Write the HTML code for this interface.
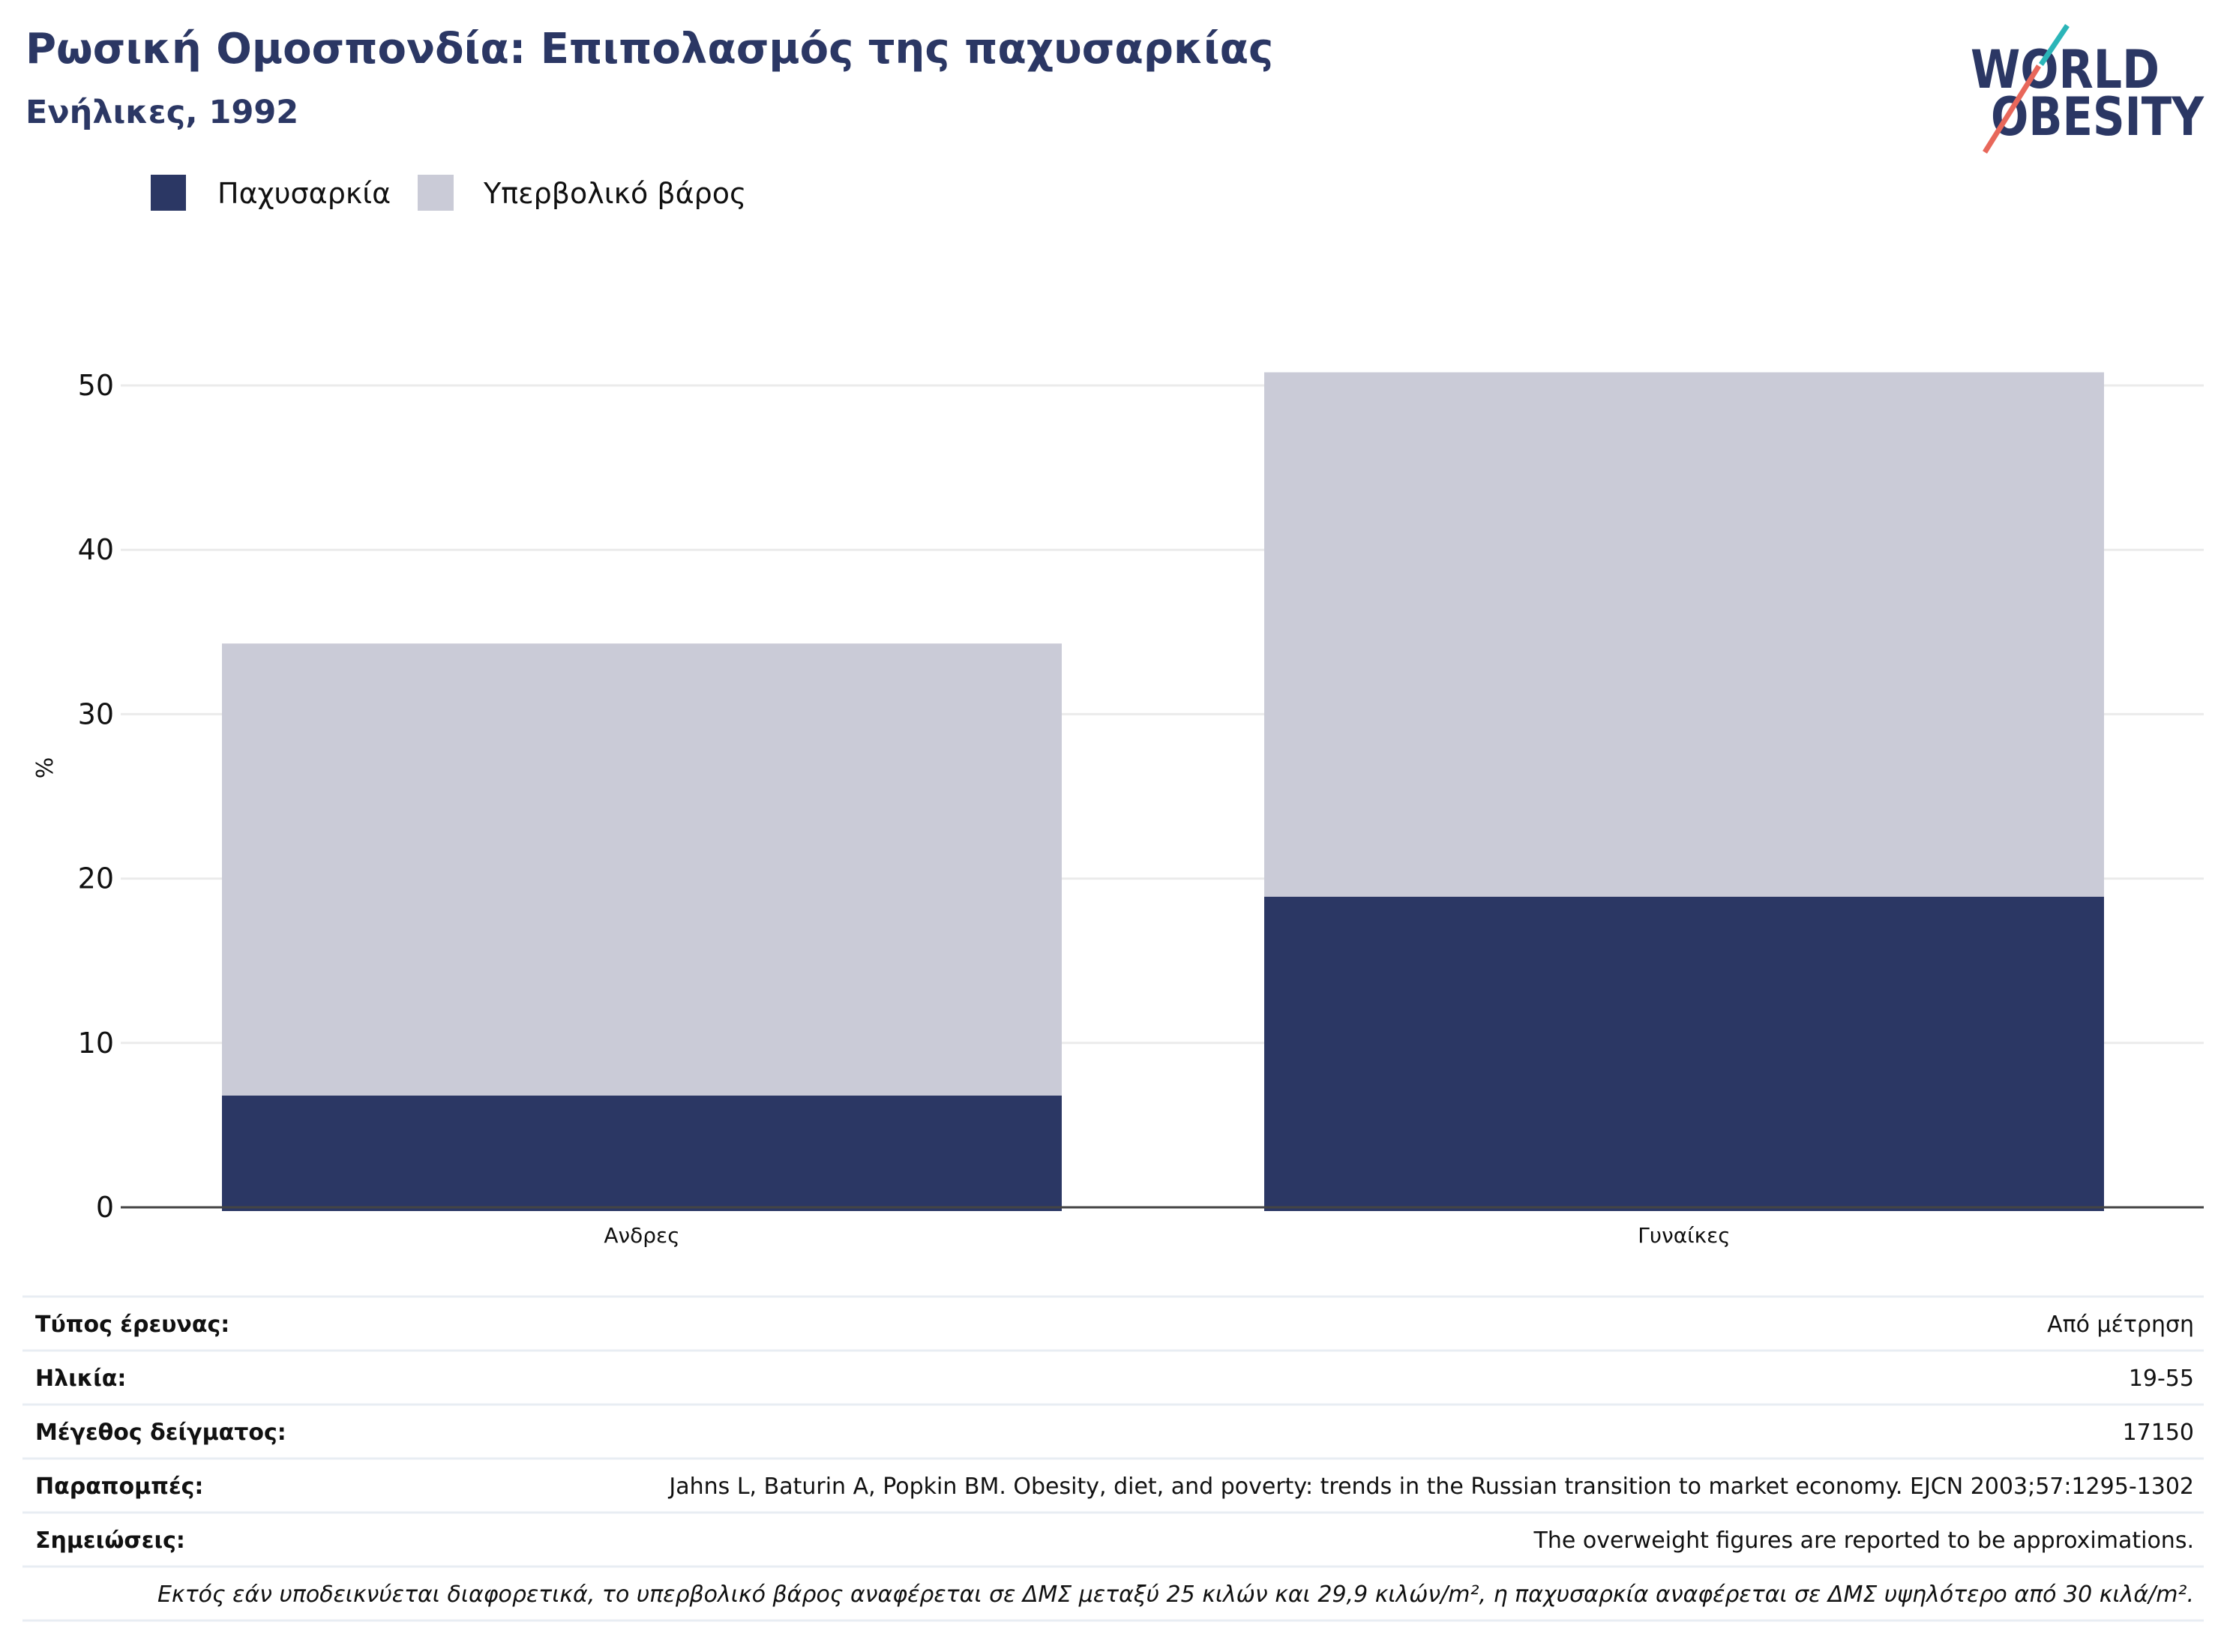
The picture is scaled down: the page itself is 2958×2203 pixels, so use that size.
<!DOCTYPE html>
<html><head><meta charset="utf-8"><style>
html,body{margin:0;padding:0;background:#fff;}
svg{display:block;font-family:"DejaVu Sans","Liberation Sans",sans-serif;}
</style></head><body>
<svg id="chart" width="2958" height="2203" viewBox="0 0 2958 2203" xmlns="http://www.w3.org/2000/svg">
<text x="34" y="84" font-size="56" font-weight="bold" fill="#2b3764">Ρωσική Ομοσπονδία: Επιπολασμός της παχυσαρκίας</text>
<text x="34" y="164" font-size="43" font-weight="bold" fill="#2b3764">Ενήλικες, 1992</text>
<g>
<text x="2628" y="117" font-size="70" font-weight="bold" fill="#2b3764" textLength="252" lengthAdjust="spacingAndGlyphs">WORLD</text>
<text x="2655" y="180" font-size="70" font-weight="bold" fill="#2b3764" textLength="284" lengthAdjust="spacingAndGlyphs">OBESITY</text>
<line x1="2757" y1="34" x2="2722" y2="86" stroke="#2bb5b8" stroke-width="7"/>
<line x1="2719" y1="88" x2="2647" y2="203" stroke="#e8675a" stroke-width="7"/>
</g>
<g>
<rect x="201" y="233" width="47" height="48" fill="#2b3764"/>
<text x="290" y="271" font-size="38" fill="#111">Παχυσαρκία</text>
<rect x="557" y="233" width="48" height="48" fill="#cacbd7"/>
<text x="645" y="271" font-size="38" fill="#111">Υπερβολικό βάρος</text>
</g>
<g id="grid"></g>
<g id="bars"></g>
<g id="axis"></g>
<text transform="translate(70,1024) rotate(-90)" font-size="30" text-anchor="middle" fill="#111">%</text>
<g id="table"></g>
</svg>
<script>
const categories = ["Ανδρες", "Γυναίκες"];
const obesity = [6.8, 18.9];
const overweight = [27.5, 31.9];
const yTicks = [0, 10, 20, 30, 40, 50];

const NS = "http://www.w3.org/2000/svg";
const y0 = 1610, pxPer = 21.92, xl = 161, xr = 2939;
const y = v => y0 - v * pxPer;
const bandStart = 296, bandStep = 1390, barW = 1120;
const x = i => bandStart + i * bandStep;
function mk(tag, attrs, parent) {
  const e = document.createElementNS(NS, tag);
  for (const k in attrs) e.setAttribute(k, attrs[k]);
  parent.appendChild(e);
  return e;
}
const grid = document.getElementById('grid');
const axis = document.getElementById('axis');
yTicks.forEach(t => {
  if (t > 0) {
    const l = mk('line', {x1: xl, x2: xr, y1: y(t), y2: y(t), stroke: '#ebebeb', 'stroke-width': 3}, grid);
    
    
  }
  const tx = mk('text', {x: 152, y: y(t) + 13, 'font-size': 38, 'text-anchor': 'end', fill: '#111'}, axis);
  tx.textContent = t;
  
  
});
const bars = document.getElementById('bars');
categories.forEach((c, i) => {
  const r1 = mk('rect', {x: x(i), y: y(obesity[i]), width: barW, height: y0 + 5 - y(obesity[i]), fill: '#2b3764'}, bars);
  
  
  const top = obesity[i] + overweight[i];
  const r2 = mk('rect', {x: x(i), y: y(top), width: barW, height: y(obesity[i]) - y(top), fill: '#cacbd7'}, bars);
  
  
  const lb = mk('text', {x: x(i) + barW / 2, y: 1657, 'font-size': 28, 'text-anchor': 'middle', fill: '#111'}, axis);
  lb.textContent = c;
  
  
});
const base = mk('line', {x1: xl, x2: xr, y1: y0, y2: y0, stroke: '#444', 'stroke-width': 3}, axis);



const rowLabels = ["Τύπος έρευνας:", "Ηλικία:", "Μέγεθος δείγματος:", "Παραπομπές:", "Σημειώσεις:"];
const rowValues = ["Από μέτρηση", "19-55", "17150", "Jahns L, Baturin A, Popkin BM. Obesity, diet, and poverty: trends in the Russian transition to market economy. EJCN 2003;57:1295-1302", "The overweight figures are reported to be approximations."];
const note = "Εκτός εάν υποδεικνύεται διαφορετικά, το υπερβολικό βάρος αναφέρεται σε ΔΜΣ μεταξύ 25 κιλών και 29,9 κιλών/m², η παχυσαρκία αναφέρεται σε ΔΜΣ υψηλότερο από 30 κιλά/m².";
const tbl = document.getElementById('table');
const rowTop = 1729, rowH = 72;
for (let i = 0; i <= 6; i++) {
  const l = mk('line', {x1: 30, x2: 2939, y1: rowTop + i * rowH, y2: rowTop + i * rowH, stroke: '#e8edf3', 'stroke-width': 3}, tbl);
  
  
}
rowLabels.forEach((r, i) => {
  const cy = rowTop + i * rowH + 47;
  const a = mk('text', {x: 47, y: cy, 'font-size': 30, 'font-weight': 'bold', fill: '#111'}, tbl);
  a.textContent = r;
  
  
  const b = mk('text', {x: 2926, y: cy, 'font-size': 30, 'text-anchor': 'end', fill: '#111'}, tbl);
  b.textContent = rowValues[i];
  
  
});
const n = mk('text', {x: 2926, y: rowTop + 5 * rowH + 47, 'font-size': 30, 'font-style': 'italic', 'text-anchor': 'end', fill: '#111'}, tbl);
n.textContent = note;


</script>
</body></html>
